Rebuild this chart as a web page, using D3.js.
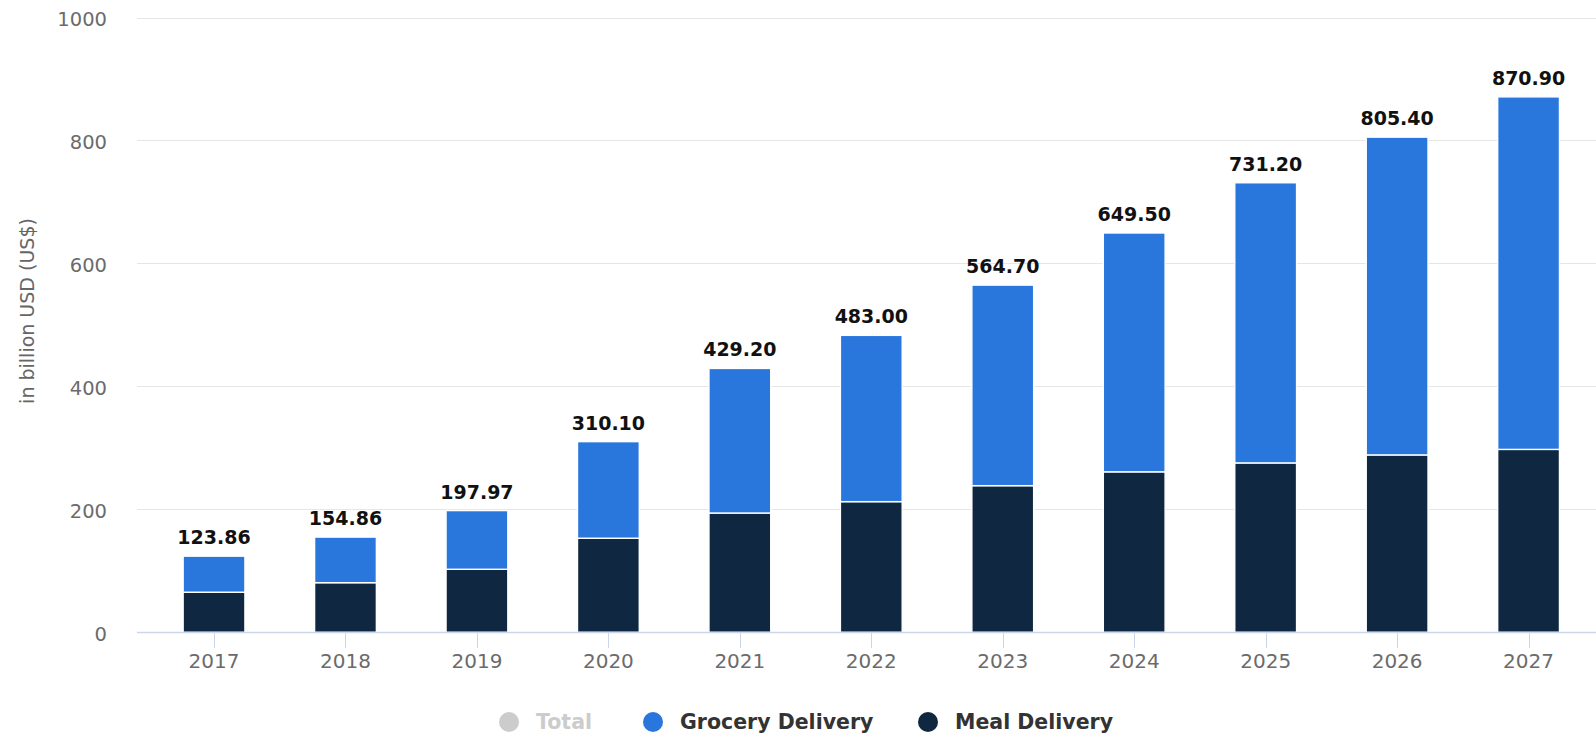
<!DOCTYPE html>
<html>
<head>
<meta charset="utf-8">
<script src="https://cdn.jsdelivr.net/npm/d3@7"></script>
<style>
  html, body { margin: 0; padding: 0; background: #fff; }
  svg { display: block; }
</style>
</head>
<body>
<svg id="chart" width="1596" height="737"></svg>
<script>
const years = ["2017","2018","2019","2020","2021","2022","2023","2024","2025","2026","2027"];
const totals = [123.86, 154.86, 197.97, 310.10, 429.20, 483.00, 564.70, 649.50, 731.20, 805.40, 870.90];
const mealDelivery = [65.2, 80.7, 102.5, 153.0, 194.0, 212.5, 238.5, 261.0, 275.5, 288.5, 297.5];
const groceryDelivery = totals.map((t, i) => +(t - mealDelivery[i]).toFixed(2));
const yTicks = [0, 200, 400, 600, 800, 1000];
const legendItems = ["Total", "Grocery Delivery", "Meal Delivery"];
const yTitle = "in billion USD (US$)";

const colors = { meal: "#0f2741", grocery: "#2977dd", total: "#cccccc" };
const font = "'DejaVu Sans', sans-serif";

const svg = d3.select("#chart");
const W = 1596;

const y = d3.scaleLinear().domain([0, 1000]).range([632.3, 17.5]);
const x = d3.scaleBand().domain(years).range([148.3, 1594.3]).paddingInner(0.53).paddingOuter(0.265);

// grid lines
svg.append("g").selectAll("line").data(yTicks.filter(d => d > 0)).join("line")
  .attr("x1", 137).attr("x2", W)
  .attr("y1", d => Math.round(y(d)) + 0.5).attr("y2", d => Math.round(y(d)) + 0.5)
  .attr("stroke", "#e6e6e6").attr("stroke-width", 1);

// y tick labels
svg.append("g").selectAll("text").data(yTicks).join("text")
  .attr("x", 107).attr("y", d => y(d) + 8.5)
  .attr("text-anchor", "end")
  .attr("font-family", font).attr("font-size", 19.5)
  .attr("fill", "#6b6b6b").text(d => d);

// y title
svg.append("text")
  .attr("transform", "translate(27,311) rotate(-90)")
  .attr("text-anchor", "middle").attr("dominant-baseline", "central")
  .attr("font-family", font).attr("font-size", 19)
  .attr("fill", "#666").text(yTitle);

// bars
const data = years.map((yr, i) => ({ yr, meal: mealDelivery[i], grocery: groceryDelivery[i], total: totals[i] }));
const stack = d3.stack().keys(["meal", "grocery"])(data);
svg.append("g").selectAll("g").data(stack).join("g")
  .attr("fill", d => colors[d.key])
  .selectAll("rect").data(d => d).join("rect")
  .attr("x", d => x(d.data.yr))
  .attr("width", x.bandwidth())
  .attr("y", d => y(d[1]))
  .attr("height", d => y(d[0]) - y(d[1]))
  .attr("stroke", "#fff").attr("stroke-width", 1.4);

// baseline axis
svg.append("line").attr("x1", 137).attr("x2", W)
  .attr("y1", 632.5).attr("y2", 632.5).attr("stroke", "#ccd6eb").attr("stroke-width", 1.5);

// x ticks
svg.append("g").selectAll("line").data(years).join("line")
  .attr("x1", d => Math.round(x(d) + x.bandwidth() / 2) + 0.5)
  .attr("x2", d => Math.round(x(d) + x.bandwidth() / 2) + 0.5)
  .attr("y1", 633).attr("y2", 648)
  .attr("stroke", "#ccd6eb").attr("stroke-width", 1);

svg.append("g").selectAll("text").data(years).join("text")
  .attr("x", d => x(d) + x.bandwidth() / 2).attr("y", 668)
  .attr("text-anchor", "middle")
  .attr("font-family", font).attr("font-size", 20)
  .attr("fill", "#6b6b6b").text(d => d);

// value labels
svg.append("g").selectAll("text").data(data).join("text")
  .attr("x", d => x(d.yr) + x.bandwidth() / 2).attr("y", d => y(d.total) - 12)
  .attr("text-anchor", "middle")
  .attr("font-family", font).attr("font-size", 19).attr("font-weight", "bold")
  .attr("fill", "#111").text(d => d.total.toFixed(2));

// legend
const legendX = [509, 653, 928];
const legendColors = [colors.total, colors.grocery, colors.meal];
const legendText = ["#cccccc", "#333", "#333"];
const lg = svg.append("g").selectAll("g").data(legendItems).join("g")
  .attr("transform", (d, i) => `translate(${legendX[i]},722)`);
lg.append("circle").attr("r", 10).attr("fill", (d, i) => legendColors[i]);
lg.append("text").attr("x", 27).attr("y", 0).attr("dy", "0.36em")
  .attr("font-family", font).attr("font-size", 20.5).attr("font-weight", "bold")
  .attr("fill", (d, i) => legendText[i]).text(d => d);
</script>
</body>
</html>
